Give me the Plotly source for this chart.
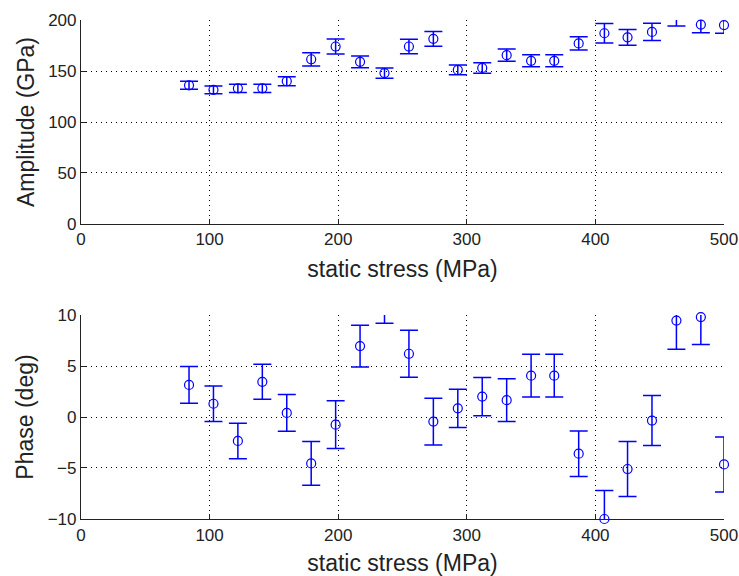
import plotly.graph_objects as go

stress = [84, 103, 122, 141, 160, 179, 198, 217, 236, 255, 274, 293,
          312, 331, 350, 368, 387, 407, 425, 444, 463, 482, 500]
amplitude = [136, 131.5, 133, 133, 140, 161.5, 174, 159, 148, 174, 181.5, 151,
             153, 165.5, 160, 160, 177, 187, 183, 188.3, 202.5, 195.5, 195]
amplitude_err = [4, 3.7, 4, 4, 4.4, 6.5, 7.4, 5.7, 5, 7.2, 7.2, 4.8,
                 5.2, 6, 5.9, 5.9, 6.5, 9.5, 7.8, 8.5, 8.3, 8, 8]
phase = [3.15, 1.3, -2.35, 3.45, 0.4, -4.55, -0.75, 6.95, 11.2, 6.2, -0.45, 0.85,
         2.0, 1.65, 4.05, 4.05, -3.6, -10.0, -5.1, -0.35, 9.45, 9.8, -4.65]
phase_err = [1.8, 1.75, 1.75, 1.72, 1.8, 2.15, 2.35, 2.04, 2.0, 2.3, 2.3, 1.88,
             1.87, 2.1, 2.1, 2.1, 2.24, 2.8, 2.7, 2.45, 2.8, 2.7, 2.7]

x_ticks = [0, 100, 200, 300, 400, 500]
amp_ticks = [0, 50, 100, 150, 200]
phase_ticks = [-10, -5, 0, 5, 10]

BLUE = "#0000FF"
FONT = "Liberation Sans, Arial, sans-serif"

fig = go.Figure()

def add(y, err, xa, ya):
    # error bars, clipped to the axes
    fig.add_trace(go.Scatter(
        x=stress, y=y, xaxis=xa, yaxis=ya, mode="markers",
        marker=dict(size=1, color="rgba(0,0,0,0)"),
        error_y=dict(type="data", array=err, visible=True, color=BLUE, thickness=1.5, width=9),
        showlegend=False, cliponaxis=True, hoverinfo="skip",
    ))
    # markers, drawn whole when their centre is inside the axes
    fig.add_trace(go.Scatter(
        x=stress, y=y, xaxis=xa, yaxis=ya, mode="markers",
        marker=dict(symbol="circle-open", size=9, color=BLUE, line=dict(width=1.2, color=BLUE)),
        showlegend=False, cliponaxis=False,
    ))

add(amplitude, amplitude_err, "x", "y")
add(phase, phase_err, "x2", "y2")

axis_common = dict(
    showgrid=True, gridcolor="#000000", gridwidth=1, griddash="1px,4px",
    showline=True, linecolor="#222222", linewidth=1.2,
    ticks="inside", ticklen=5, tickcolor="#222222", tickwidth=1,
    zeroline=False, mirror=False, automargin=False, layer="below traces",
    tickfont=dict(family=FONT, size=17, color="#222222"),
)

title_font = dict(family=FONT, size=23, color="#222222")

fig.update_layout(
    width=739, height=576,
    margin=dict(l=81, r=15, t=20, b=57),
    paper_bgcolor="white", plot_bgcolor="white",
    xaxis=dict(axis_common, domain=[0, 1], anchor="y", range=[0, 500],
               tickvals=x_ticks, title=dict(text="static stress (MPa)", font=title_font, standoff=12)),
    yaxis=dict(axis_common, domain=[0.5912, 1], anchor="x", range=[0, 200],
               tickvals=amp_ticks, title=dict(text="Amplitude (GPa)", font=title_font, standoff=7)),
    xaxis2=dict(axis_common, domain=[0, 1], anchor="y2", range=[0, 500],
                tickvals=x_ticks, title=dict(text="static stress (MPa)", font=title_font, standoff=12)),
    yaxis2=dict(axis_common, domain=[0, 0.4088], anchor="x2", range=[-10, 10],
                tickvals=phase_ticks, title=dict(text="Phase (deg)", font=title_font, standoff=7)),
)

fig.write_html("out.html")
